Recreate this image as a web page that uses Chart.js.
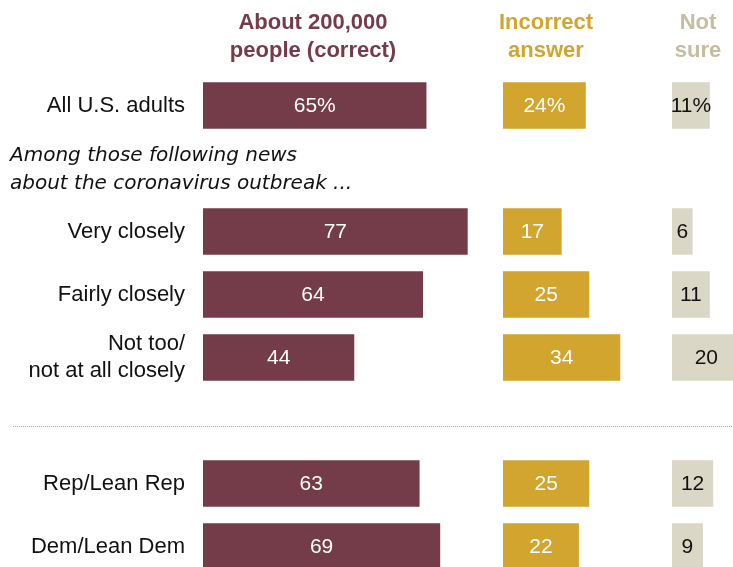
<!DOCTYPE html>
<html>
<head>
<meta charset="utf-8">
<script src="https://cdn.jsdelivr.net/npm/chart.js@4.4.0/dist/chart.umd.min.js"></script>
<style>
  html, body { margin: 0; padding: 0; background: #fff; }
  #wrap { position: relative; width: 733px; height: 567px; overflow: hidden; }
  #wrap canvas { position: absolute; top: 0; }
  .head {
    position: absolute; top: 8px; text-align: center;
    font-family: 'Liberation Sans', Arial, sans-serif;
    font-weight: bold; font-size: 22px; line-height: 28px;
  }
</style>
</head>
<body>
<div id="wrap">
  <canvas id="c1" width="733" height="580" style="left:0"></canvas>
  <canvas id="c2" width="140" height="580" style="left:503px"></canvas>
  <canvas id="c3" width="105" height="580" style="left:672px"></canvas>
  <div class="head" id="h1" style="left:193px;width:240px;color:#763b4b"></div>
  <div class="head" id="h2" style="left:486px;width:120px;color:#d2a52e"></div>
  <div class="head" id="h3" style="left:668px;width:60px;color:#c5bd9f"></div>
</div>
<script>
// Rows top to bottom; '' rows hold the subgroup heading and the divider
const rowLabels = ['All U.S. adults', '', 'Very closely', 'Fairly closely',
  ['Not too/', 'not at all closely'], '', 'Rep/Lean Rep', 'Dem/Lean Dem'];
const correct   = [65, null, 77, 64, 44, null, 63, 69];
const incorrect = [24, null, 17, 25, 34, null, 25, 22];
const notSure   = [11, null, 6, 11, 20, null, 12, 9];

const headingRow = 1;
const dividerRow = 5;
const subgroupHeading = ['Among those following news', 'about the coronavirus outbreak ...'];
const columnTitles = [
  ['About 200,000', 'people (correct)'],
  ['Incorrect', 'answer'],
  ['Not', 'sure']
];

const FONT = "'Liberation Sans', Arial, sans-serif";

['h1', 'h2', 'h3'].forEach((id, i) => {
  document.getElementById(id).innerHTML = columnTitles[i].join('<br>');
});

// writes the value in the middle of each bar; first row gets a % sign
const valueLabels = {
  id: 'valueLabels',
  afterDatasetsDraw(chart, args, opts) {
    const ctx = chart.ctx;
    const meta = chart.getDatasetMeta(0);
    const values = chart.data.datasets[0].data;
    ctx.save();
    ctx.font = '21px ' + FONT;
    ctx.fillStyle = opts.color;
    ctx.textAlign = 'center';
    ctx.textBaseline = 'middle';
    meta.data.forEach((bar, i) => {
      if (values[i] == null) return;
      const txt = i === 0 ? values[i] + '%' : String(values[i]);
      ctx.fillText(txt, (bar.base + bar.x) / 2, bar.y + 1);
    });
    ctx.restore();
  }
};

// italic subgroup heading and dotted divider, drawn on the first chart
const extras = {
  id: 'extras',
  afterDraw(chart) {
    const ctx = chart.ctx;
    const y = chart.scales.y;
    ctx.save();
    ctx.font = 'oblique 20px "DejaVu Sans", sans-serif';
    ctx.fillStyle = '#111';
    ctx.textBaseline = 'middle';
    const hy = y.getPixelForValue(headingRow);
    ctx.fillText(subgroupHeading[0], 10, hy - 13);
    ctx.fillText(subgroupHeading[1], 10, hy + 15);

    const dy = Math.round(y.getPixelForValue(dividerRow)) + 5.5;
    ctx.strokeStyle = '#aaa';
    ctx.lineWidth = 1;
    ctx.setLineDash([1, 1]);
    ctx.beginPath();
    ctx.moveTo(13, dy);
    ctx.lineTo(chart.width, dy);
    ctx.stroke();
    ctx.restore();
  }
};

function makeChart(id, values, color, labelColor, max, opts) {
  return new Chart(document.getElementById(id), {
    type: 'bar',
    data: {
      labels: rowLabels,
      datasets: [{
        data: values,
        backgroundColor: color,
        categoryPercentage: 1,
        barPercentage: 0.74
      }]
    },
    options: {
      indexAxis: 'y',
      responsive: false,
      animation: false,
      layout: { padding: { top: 74, bottom: 2, left: 0, right: opts.padRight } },
      plugins: {
        legend: { display: false },
        tooltip: { enabled: false },
        valueLabels: { color: labelColor }
      },
      scales: {
        x: { display: false, min: 0, max: max },
        y: {
          display: opts.showRows,
          border: { display: false },
          grid: { display: false, drawTicks: false },
          ticks: {
            color: '#111',
            padding: 18,
            font: { family: FONT, size: 22, lineHeight: 1.25 }
          },
          afterFit(scale) {
            if (!opts.showRows) return;
            scale.width = 203;
            // keep the rows evenly spaced from the layout padding alone
            scale.paddingTop = 0;
            scale.paddingBottom = 0;
          }
        }
      }
    },
    plugins: opts.showRows ? [valueLabels, extras] : [valueLabels]
  });
}

makeChart('c1', correct, '#733c48', '#fff', 80, { showRows: true, padRight: 255 });
makeChart('c2', incorrect, '#d2a52e', '#fff', 40, { showRows: false, padRight: 2 });
makeChart('c3', notSure, '#dad7c6', '#111', 30, { showRows: false, padRight: 2 });
</script>
</body>
</html>
